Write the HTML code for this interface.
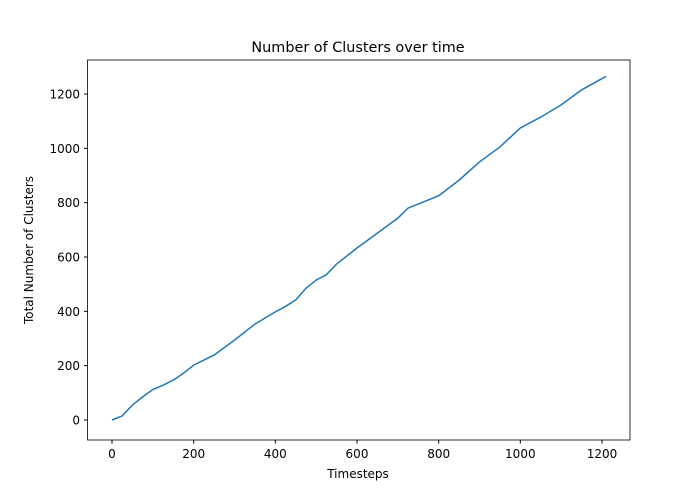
<!DOCTYPE html>
<html><head><meta charset="utf-8"><style>
body{margin:0;background:#fff;}
svg{display:block;font-family:"DejaVu Sans","Liberation Sans",sans-serif;}
</style></head><body>
<svg id="chart" width="700" height="500">
<rect width="700" height="500" fill="#fff"/>
<text x="358" y="52" text-anchor="middle" font-size="14.4">Number of Clusters over time</text>
<g id="xt"></g><g id="yt"></g>
<path id="line" fill="none" stroke="#1f77b4" stroke-width="1.5"/>
<rect x="87.5" y="60" width="542.5" height="380" fill="none" stroke="#000" stroke-width="0.8"/>
<text x="358" y="478" text-anchor="middle" font-size="12">Timesteps</text>
<text transform="translate(33,250) rotate(-90)" text-anchor="middle" font-size="12">Total Number of Clusters</text>
</svg>
<script>
const xs=[0,25,50,75,100,125,150,175,200,250,300,350,400,425,450,475,500,525,550,600,650,700,725,800,850,900,950,1000,1050,1100,1150,1210];
const ys=[0,15,55,85,112,128,147,172,202,239,294,353,398,418,442,485,515,535,574,633,688,743,780,825,883,950,1005,1075,1115,1160,1215,1265];
const xTicks=[0,200,400,600,800,1000,1200];
const yTicks=[0,200,400,600,800,1000,1200];
const X=v=>112+v*490/1200, Y=v=>420-v*326/1200;
const NS="http://www.w3.org/2000/svg";
document.getElementById('line').setAttribute('d',xs.map((x,i)=>(i?'L':'M')+X(x)+','+Y(ys[i])).join(''));
const xt=document.getElementById('xt'),yt=document.getElementById('yt');
xTicks.forEach(t=>{
 const l=document.createElementNS(NS,'line');
 l.setAttribute('x1',X(t));l.setAttribute('x2',X(t));l.setAttribute('y1',440);l.setAttribute('y2',443.5);l.setAttribute('stroke','#000');
 
 
 xt.appendChild(l);
 const s=document.createElementNS(NS,'text');
 s.setAttribute('x',X(t));s.setAttribute('y',458);s.setAttribute('text-anchor','middle');s.setAttribute('font-size','12');s.textContent=t;
 
 
 xt.appendChild(s);
});
yTicks.forEach(t=>{
 const l=document.createElementNS(NS,'line');
 l.setAttribute('x1',84);l.setAttribute('x2',87.5);l.setAttribute('y1',Y(t));l.setAttribute('y2',Y(t));l.setAttribute('stroke','#000');
 
 
 yt.appendChild(l);
 const s=document.createElementNS(NS,'text');
 s.setAttribute('x',80);s.setAttribute('y',Y(t)+4.5);s.setAttribute('text-anchor','end');s.setAttribute('font-size','12');s.textContent=t;
 
 
 yt.appendChild(s);
});
</script>
</body></html>
